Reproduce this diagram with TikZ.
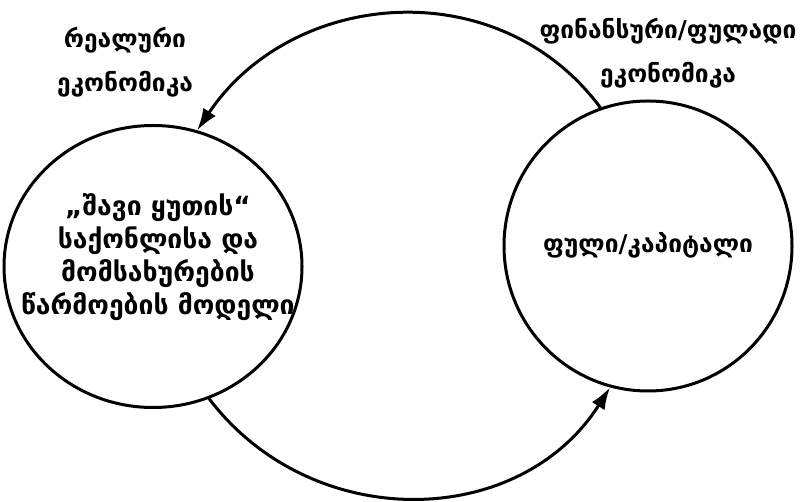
\documentclass[tikz,border=0pt]{standalone}
\usepackage{fontspec}
\setmainfont{DejaVu Sans}
\usetikzlibrary{shapes.geometric,arrows.meta}
\tikzset{
  blob/.style={ellipse,draw,line width=3pt,inner sep=0pt},
  lbl/.style={align=center,font=\bfseries\fontsize{24.5}{32}\selectfont,inner sep=0pt},
  flow/.style={line width=3pt,-{Latex[length=22pt,width=15pt]}}
}
\begin{document}
\begin{tikzpicture}[x=1pt,y=-1pt]
\useasboundingbox[fill=white] (0,0) rectangle (806,502);
\node[blob,minimum width=298pt,minimum height=282pt] (L) at (153,266.5) {};
\node[blob,minimum width=288pt,minimum height=290pt] (R) at (648,246) {};
\node[lbl,font=\bfseries\fontsize{26.5}{33}\selectfont] (Ltxt) at (158,257) {„შავი ყუთის“\\საქონლისა და\\მომსახურების\\წარმოების მოდელი};
\node[lbl] (Rtxt) at (648,245) {ფული/კაპიტალი};
\node[lbl,font=\bfseries\fontsize{24.5}{44}\selectfont] (real) at (125,62) {რეალური\\ეკონომიკა};
\node[lbl,font=\bfseries\fontsize{24.5}{44}\selectfont] (fin) at (668,53) {ფინანსური/ფულადი\\ეკონომიკა};
\draw[flow] (R.109.8) to[out=126.6,in=56.2,looseness=1.08] (L.72.2);
\draw[flow] (L.-67.6) to[out=-52.75,in=237.5,looseness=1.08] (R.255);
\end{tikzpicture}
\end{document}
